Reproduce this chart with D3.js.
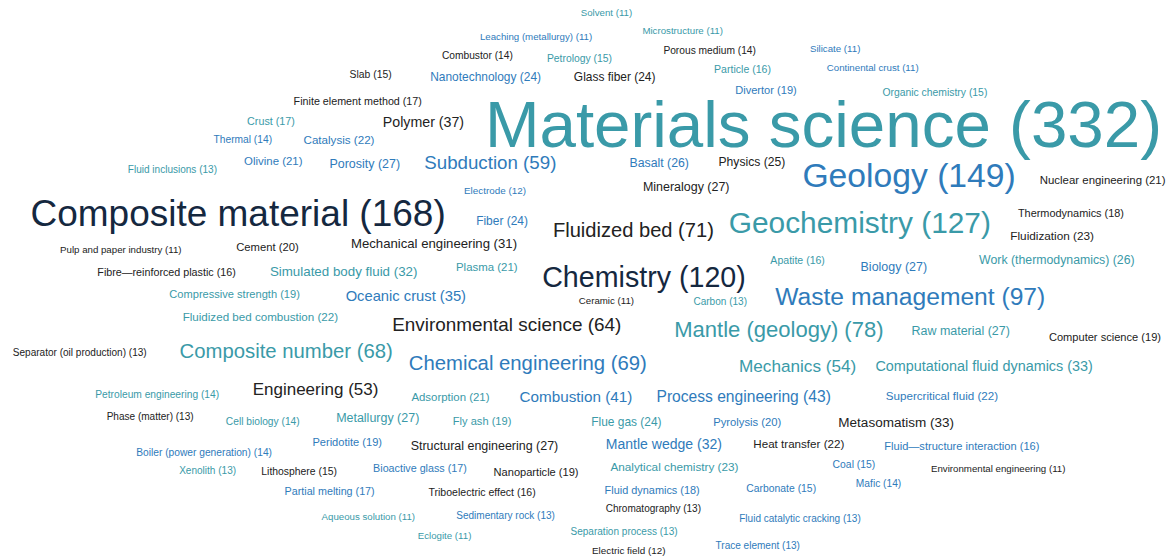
<!DOCTYPE html>
<html>
<head>
<meta charset="utf-8">
<script src="https://cdn.jsdelivr.net/npm/d3@7"></script>
<style>
  html, body { margin: 0; padding: 0; background: #ffffff; }
  svg { display: block; }
</style>
</head>
<body>
<svg id="chart"></svg>
<script>
// ---- data ----
const words = [
  "Solvent","Microstructure","Leaching (metallurgy)","Combustor","Petrology","Porous medium","Silicate","Continental crust","Particle","Slab",
  "Nanotechnology","Glass fiber","Divertor","Organic chemistry","Finite element method","Crust","Polymer","Materials science","Thermal","Catalysis",
  "Olivine","Porosity","Subduction","Fluid inclusions","Basalt","Physics","Geology","Nuclear engineering","Mineralogy","Electrode",
  "Composite material","Fiber","Fluidized bed","Geochemistry","Thermodynamics","Fluidization","Pulp and paper industry","Cement","Mechanical engineering","Fibre—reinforced plastic",
  "Simulated body fluid","Plasma","Chemistry","Apatite","Biology","Work (thermodynamics)","Compressive strength","Oceanic crust","Ceramic","Carbon",
  "Waste management","Fluidized bed combustion","Environmental science","Mantle (geology)","Raw material","Computer science","Separator (oil production)","Composite number","Chemical engineering","Mechanics",
  "Computational fluid dynamics","Engineering","Petroleum engineering","Adsorption","Combustion","Process engineering","Supercritical fluid","Phase (matter)","Cell biology","Metallurgy",
  "Fly ash","Flue gas","Pyrolysis","Metasomatism","Boiler (power generation)","Peridotite","Structural engineering","Mantle wedge","Heat transfer","Fluid—structure interaction",
  "Xenolith","Lithosphere","Bioactive glass","Nanoparticle","Analytical chemistry","Coal","Environmental engineering","Mafic","Partial melting","Triboelectric effect",
  "Fluid dynamics","Carbonate","Chromatography","Aqueous solution","Sedimentary rock","Fluid catalytic cracking","Separation process","Eclogite","Trace element","Electric field"
];
const counts = [
  11,11,11,14,15,14,11,11,16,15,
  24,24,19,15,17,17,37,332,14,22,
  21,27,59,13,26,25,149,21,27,12,
  168,24,71,127,18,23,11,20,31,16,
  32,21,120,16,27,26,19,35,11,13,
  97,22,64,78,27,19,13,68,69,54,
  33,53,14,21,41,43,22,13,14,27,
  19,24,20,33,14,19,27,32,22,16,
  13,15,17,19,23,15,11,14,17,16,
  18,15,13,11,13,13,13,11,13,12
];
// cloud weight as it appears in the picture, where it differs from the count
const cloudWeightOverrides = {
  "Mantle (geology)": 82,
  "Composite number": 72,
  "Chemical engineering": 72,
  "Subduction": 63,
  "Oceanic crust": 40,
  "Computational fluid dynamics": 38,
  "Combustion": 43,
  "Process engineering": 45,
  "Mantle wedge": 36,
  "Fluid—structure interaction": 19,
  "Fibre—reinforced plastic": 17
};
// colour group of each word
const groups = [
  "teal","teal","blue","dark","teal","dark","blue","blue","teal","dark",
  "blue","dark","blue","teal","dark","teal","dark","teal","blue","blue",
  "blue","blue","blue","teal","blue","dark","blue","dark","dark","blue",
  "navy","blue","dark","teal","dark","dark","dark","dark","dark","dark",
  "teal","teal","navy","teal","blue","teal","teal","blue","dark","teal",
  "blue","teal","dark","teal","teal","dark","dark","teal","blue","teal",
  "teal","dark","teal","teal","blue","blue","blue","dark","teal","teal",
  "teal","teal","blue","dark","blue","blue","dark","blue","dark","blue",
  "teal","dark","blue","dark","teal","blue","dark","blue","blue","dark",
  "blue","blue","dark","teal","blue","blue","teal","teal","blue","dark"
];
// word-cloud placement (centre of each word, in layout units 0-1000)
const cloudX = [
  517,582,457,407,494,605,712,744,633,316,
  414,524,653,797,305,231,361,702,207,289,
  233,311,418,147,562,641,775,940,585,422,
  203,428,540,733,913,897,103,228,370,142,
  293,415,549,680,762,901,200,346,517,614,
  776,222,432,664,819,942,68,244,450,680,
  839,269,134,384,491,634,803,128,224,322,
  411,534,637,764,174,296,413,566,681,820,
  177,255,358,457,575,728,851,749,281,411,
  556,666,557,314,431,682,532,379,646,536
];
const cloudY = [
  22,54,66,99,104,90,88,122,125,134,
  138,138,161,165,181,217,219,222,249,251,
  289,294,292,303,292,289,314,323,335,342,
  382,396,412,398,382,423,448,443,437,487,
  486,478,496,466,478,466,527,530,538,541,
  532,568,581,590,593,604,631,629,651,656,
  656,697,706,711,711,710,710,747,756,749,
  754,756,756,756,810,792,799,796,796,799,
  844,844,840,846,837,833,840,867,880,882,
  878,876,912,925,923,930,953,959,977,987
];

// ---- chart ----
const width = 1173, height = 558;
const svg = d3.select("#chart").attr("width", width).attr("height", height);

const x = d3.scaleLinear().domain([0, 1000]).range([0, width]);
const y = d3.scaleLinear().domain([0, 1000]).range([0, height]);
const size = d3.scaleLinear().domain([11, 332]).range([9.7, 65.5]);
const color = d3.scaleOrdinal()
  .domain(["teal","blue","navy","dark"])
  .range(["#3a9aa8","#2f7bbb","#15283f","#222222"]);

const data = words.map((w, i) => ({
  label: `${w} (${counts[i]})`,
  weight: cloudWeightOverrides[w] !== undefined ? cloudWeightOverrides[w] : counts[i],
  group: groups[i],
  cx: cloudX[i],
  cy: cloudY[i]
}));

svg.append("g")
  .selectAll("text")
  .data(data)
  .join("text")
  .attr("x", d => x(d.cx))
  .attr("y", d => y(d.cy))
  .attr("dy", "0.35em")
  .attr("text-anchor", "middle")
  .attr("font-family", "'Liberation Sans', Arial, sans-serif")
  .attr("font-size", d => size(d.weight))
  .attr("fill", d => color(d.group))
  .text(d => d.label);
</script>
</body>
</html>
